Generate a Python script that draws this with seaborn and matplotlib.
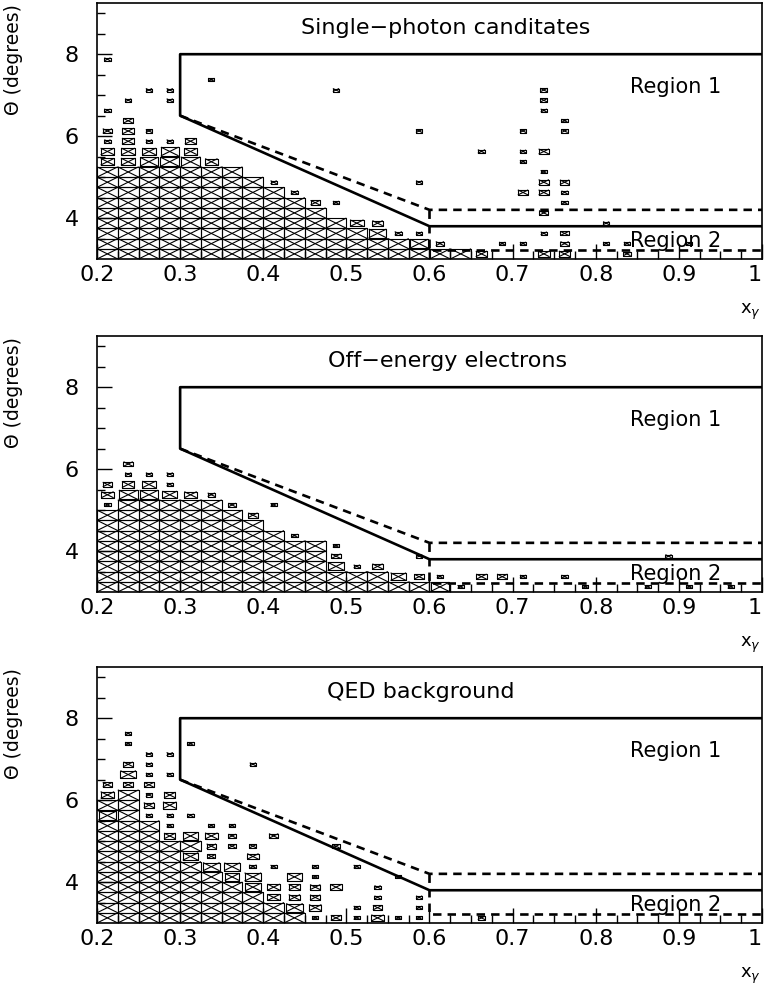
import numpy as np
import pandas as pd
import matplotlib
matplotlib.use("Agg")
import matplotlib.pyplot as plt
import seaborn as sns
from matplotlib.collections import LineCollection

# ---------------- data ----------------
# histogram binning (x_gamma, theta)
X_LO, X_BIN = 0.2, 0.025
T_LO, T_BIN = 3.0, 0.25

# saturated (full-size) cells: upper theta edge of the full block per x column (from x=0.2)
sp_full_top = [5.25, 5.25, 5.25, 5.25, 5.25, 5.25, 5.25, 5.0, 4.75, 4.5, 4.25, 4.0,
               3.75, 3.5, 3.5, 3.25, 3.25, 3.25]
oe_full_top = [5.0, 5.25, 5.25, 5.25, 5.25, 5.25, 5.0, 4.75, 4.5, 4.25, 4.25, 3.5,
               3.5, 3.5, 3.25, 3.25]
qed_full_top = [5.5, 6.25, 5.5, 5.0, 4.5, 4.25, 4.0, 3.75, 3.5, 3.25]

# other cells: bin centre x, bin centre theta, relative box size
sp_x = [0.2125, 0.3375, 0.2625, 0.2875, 0.4875, 0.2375, 0.2875, 0.2125, 0.2375, 0.2125,
        0.2375, 0.2625, 0.5875, 0.2125, 0.2375, 0.2625, 0.2875, 0.3125, 0.2125, 0.2375,
        0.2625, 0.2875, 0.3125, 0.2125, 0.2375, 0.2625, 0.2875, 0.3125, 0.3375, 0.4125,
        0.5875, 0.4375, 0.4625, 0.4875, 0.5125, 0.5375, 0.5375, 0.5625, 0.5875, 0.5875,
        0.7375, 0.7375, 0.7375, 0.7625, 0.7625, 0.7125, 0.6625, 0.7125, 0.7375, 0.7125,
        0.7375, 0.7375, 0.7625, 0.7125, 0.7375, 0.7625, 0.7625, 0.7375, 0.8125, 0.7375,
        0.7625, 0.7625, 0.6875, 0.7125, 0.8125, 0.8375, 0.9125, 0.6125, 0.6625, 0.7375,
        0.7625, 0.8375]
sp_t = [7.875, 7.375, 7.125, 7.125, 7.125, 6.875, 6.875, 6.625, 6.375, 6.125,
        6.125, 6.125, 6.125, 5.875, 5.875, 5.875, 5.875, 5.875, 5.625, 5.625,
        5.625, 5.625, 5.625, 5.375, 5.375, 5.375, 5.375, 5.375, 5.375, 4.875,
        4.875, 4.625, 4.375, 4.375, 3.875, 3.875, 3.625, 3.625, 3.625, 3.375,
        7.125, 6.875, 6.625, 6.375, 6.125, 6.125, 5.625, 5.625, 5.625, 5.375,
        5.125, 4.875, 4.875, 4.625, 4.625, 4.625, 4.375, 4.125, 3.875, 3.625,
        3.625, 3.375, 3.375, 3.375, 3.375, 3.375, 3.375, 3.375, 3.125, 3.125,
        3.125, 3.125]
sp_s = [0.3, 0.3, 0.3, 0.3, 0.3, 0.3, 0.3, 0.3, 0.45, 0.45,
        0.55, 0.3, 0.3, 0.3, 0.6, 0.3, 0.3, 0.55, 0.65, 0.65,
        0.65, 0.85, 0.6, 0.65, 0.7, 0.85, 0.9, 0.95, 0.6, 0.3,
        0.3, 0.35, 0.45, 0.3, 0.65, 0.5, 0.85, 0.35, 0.3, 0.85,
        0.35, 0.35, 0.3, 0.3, 0.3, 0.3, 0.35, 0.3, 0.5, 0.3,
        0.3, 0.5, 0.45, 0.5, 0.5, 0.3, 0.3, 0.45, 0.3, 0.3,
        0.4, 0.4, 0.3, 0.3, 0.3, 0.3, 0.3, 0.4, 0.55, 0.55,
        0.55, 0.35]

oe_x = [0.2375, 0.2375, 0.2625, 0.2875, 0.2125, 0.2375, 0.2625, 0.2875, 0.2125, 0.2375,
        0.2625, 0.2875, 0.3125, 0.3375, 0.2125, 0.3625, 0.4125, 0.3875, 0.4375, 0.4875,
        0.4875, 0.5875, 0.4875, 0.5125, 0.5375, 0.5625, 0.5875, 0.6125, 0.6625, 0.6875,
        0.7125, 0.7625, 0.8875, 0.6125, 0.6375, 0.7875, 0.8625, 0.9125, 0.9625]
oe_t = [6.125, 5.875, 5.875, 5.875, 5.625, 5.625, 5.625, 5.625, 5.375, 5.375,
        5.375, 5.375, 5.375, 5.375, 5.125, 5.125, 5.125, 4.875, 4.375, 4.125,
        3.875, 3.875, 3.625, 3.625, 3.625, 3.375, 3.375, 3.375, 3.375, 3.375,
        3.375, 3.375, 3.875, 3.125, 3.125, 3.125, 3.125, 3.125, 3.125]
oe_s = [0.45, 0.3, 0.3, 0.3, 0.45, 0.6, 0.65, 0.3, 0.6, 0.9,
        0.9, 0.7, 0.6, 0.35, 0.3, 0.35, 0.3, 0.45, 0.3, 0.3,
        0.45, 0.3, 0.8, 0.3, 0.5, 0.75, 0.45, 0.3, 0.5, 0.5,
        0.3, 0.3, 0.3, 0.9, 0.3, 0.3, 0.3, 0.3, 0.3]

qed_x = [0.2125, 0.2125, 0.2125, 0.2125,
         0.2375, 0.2375, 0.2375, 0.2375, 0.2375,
         0.2625, 0.2625, 0.2625, 0.2625, 0.2625, 0.2625, 0.2625,
         0.2875, 0.2875, 0.2875, 0.2875, 0.2875, 0.2875, 0.2875,
         0.3125, 0.3125, 0.3125, 0.3125, 0.3125,
         0.3375, 0.3375, 0.3375, 0.3375, 0.3375,
         0.3625, 0.3625, 0.3625, 0.3625, 0.3625,
         0.3875, 0.3875, 0.3875, 0.3875, 0.3875, 0.3875,
         0.4125, 0.4125, 0.4125, 0.4125,
         0.4375, 0.4375, 0.4375, 0.4375,
         0.4625, 0.4625, 0.4625, 0.4625, 0.4625, 0.4625,
         0.4875, 0.4875, 0.4875,
         0.5125, 0.5125, 0.5125,
         0.5375, 0.5375, 0.5375, 0.5375,
         0.5625, 0.5625,
         0.5875, 0.5875, 0.5875,
         0.6625]
qed_t = [5.625, 5.875, 6.125, 6.375,
         6.375, 6.625, 6.875, 7.375, 7.625,
         5.625, 5.875, 6.125, 6.375, 6.625, 6.875, 7.125,
         5.125, 5.375, 5.625, 5.875, 6.125, 6.625, 7.125,
         4.625, 4.875, 5.125, 5.625, 7.375,
         4.375, 4.625, 4.875, 5.125, 5.375,
         4.125, 4.375, 4.875, 5.125, 5.375,
         3.875, 4.125, 4.375, 4.625, 4.875, 6.875,
         3.625, 3.875, 4.375, 5.125,
         3.375, 3.625, 3.875, 4.125,
         3.125, 3.375, 3.625, 3.875, 4.125, 4.375,
         3.125, 3.875, 4.875,
         3.125, 3.375, 4.375,
         3.125, 3.375, 3.625, 3.875,
         3.125, 4.125,
         3.125, 3.375, 3.625,
         3.125]
qed_s = [0.85, 1.0, 0.65, 0.45,
         0.45, 0.75, 0.45, 0.3, 0.3,
         0.3, 0.5, 0.3, 0.45, 0.3, 0.3, 0.3,
         0.55, 0.3, 0.3, 0.65, 0.55, 0.3, 0.3,
         0.75, 1.0, 0.7, 0.3, 0.3,
         0.8, 0.4, 0.45, 0.6, 0.3,
         0.7, 0.75, 0.35, 0.35, 0.3,
         0.75, 0.8, 0.35, 0.55, 0.35, 0.3,
         0.6, 0.6, 0.3, 0.45,
         0.8, 0.55, 0.55, 0.7,
         0.3, 0.6, 0.5, 0.5, 0.3, 0.3,
         0.5, 0.55, 0.35,
         0.3, 0.3, 0.3,
         0.6, 0.45, 0.3, 0.3,
         0.3, 0.3,
         0.3, 0.3, 0.3,
         0.35]

# selection regions
region1_x = [1.0, 0.3, 0.3, 0.6, 1.0]
region1_t = [8.0, 8.0, 6.5, 3.8, 3.8]
cut_x = [0.3, 0.6, 1.0]
cut_t = [6.5, 4.2, 4.2]
region2_x = [0.6, 0.6, 1.0]
region2_t = [4.2, 3.23, 3.23]

titles = ["Single\u2212photon canditates", "Off\u2212energy electrons", "QED background"]
title_x = [0.619, 0.622, 0.589]
xtick_vals = [0.2, 0.3, 0.4, 0.5, 0.6, 0.7, 0.8, 0.9, 1.0]
xtick_labels = ["0.2", "0.3", "0.4", "0.5", "0.6", "0.7", "0.8", "0.9", "1"]
ytick_vals = [4, 6, 8]
ytick_labels = ["4", "6", "8"]

# ---------------- plotting ----------------
sns.set_theme(style="white")
plt.rcParams["font.family"] = ["DejaVu Sans"]

fig = plt.figure(figsize=(7.64, 9.86), dpi=100)
W, H = 764.0, 986.0
panel_tops = [3, 336, 667]
panel_h = 256


def cells(full_top, xs, ts, ss):
    cx, ct, cs = [], [], []
    for c, top in enumerate(full_top):
        n = int(round((top - T_LO) / T_BIN))
        for r in range(n):
            cx.append(X_LO + (c + 0.5) * X_BIN)
            ct.append(T_LO + (r + 0.5) * T_BIN)
            cs.append(1.0)
    cx += list(xs); ct += list(ts); cs += list(ss)
    return pd.DataFrame({"x": cx, "theta": ct, "size": cs})


def draw_boxes(ax, df):
    segs = []
    for x, t, s in zip(df["x"], df["theta"], df["size"]):
        hw = s * X_BIN / 2
        hh = s * T_BIN / 2
        x0, x1, y0, y1 = x - hw, x + hw, t - hh, t + hh
        segs.append([(x0, y0), (x1, y0), (x1, y1), (x0, y1), (x0, y0)])
        segs.append([(x0, y0), (x1, y1)])
        segs.append([(x0, y1), (x1, y0)])
    ax.add_collection(LineCollection(segs, colors="black", linewidths=0.8))


datasets = [
    (sp_full_top, sp_x, sp_t, sp_s),
    (oe_full_top, oe_x, oe_t, oe_s),
    (qed_full_top, qed_x, qed_t, qed_s),
]

for k, (ft, xs, ts, ss) in enumerate(datasets):
    top = panel_tops[k]
    ax = fig.add_axes([97 / W, 1 - (top + panel_h) / H, 665 / W, panel_h / H])
    df = cells(ft, xs, ts, ss)
    draw_boxes(ax, df)

    sns.lineplot(x=region1_x, y=region1_t, sort=False, estimator=None, color="black",
                 lw=1.9, ax=ax, legend=False)
    sns.lineplot(x=cut_x, y=cut_t, sort=False, estimator=None, color="black",
                 lw=1.9, linestyle=(0, (3.2, 2.3)), ax=ax, legend=False)
    sns.lineplot(x=region2_x, y=region2_t, sort=False, estimator=None, color="black",
                 lw=1.9, linestyle=(0, (3.2, 2.3)), ax=ax, legend=False)

    ax.set_xlim(0.2, 1.0)
    ax.set_ylim(3.0, 9.25)
    ax.set_xticks(xtick_vals)
    ax.set_xticklabels(xtick_labels)
    ax.set_xticks(np.arange(0.2, 1.0001, 0.025), minor=True)
    ax.set_yticks(ytick_vals)
    ax.set_yticklabels(ytick_labels)
    ax.set_yticks(np.arange(3.5, 9.01, 0.5), minor=True)
    ax.tick_params(axis="both", which="major", direction="in", length=11, width=1.0,
                   colors="black", labelsize=16, left=True, bottom=True)
    ax.tick_params(axis="both", which="minor", direction="in", length=5.5, width=1.0,
                   colors="black", left=True, bottom=True)
    ax.tick_params(axis="x", which="major", pad=4)
    ax.tick_params(axis="y", which="major", pad=13)
    ax.get_xticklabels()[-1].set_horizontalalignment("right")
    for sp in ax.spines.values():
        sp.set_visible(True)
        sp.set_color("black")
        sp.set_linewidth(1.2)
    ax.set_xlabel("")
    ax.set_ylabel("")

    ax.text(title_x[k], 8.64, titles[k], ha="center", va="center", fontsize=16,
            color="black")
    ax.text(0.841, 7.2, "Region 1", ha="left", va="center", fontsize=15, color="black")
    ax.text(0.841, 3.44, "Region 2", ha="left", va="center", fontsize=15, color="black")
    ax.text(-0.125, 0.78, "\u0398 (degrees)", transform=ax.transAxes, rotation=90,
            ha="center", va="center", fontsize=13.5, color="black")
    ax.text(0.982, -0.208, r"x$_\gamma$", transform=ax.transAxes, ha="center",
            va="center", fontsize=13, color="black")

fig.savefig("out.png", dpi=100)
